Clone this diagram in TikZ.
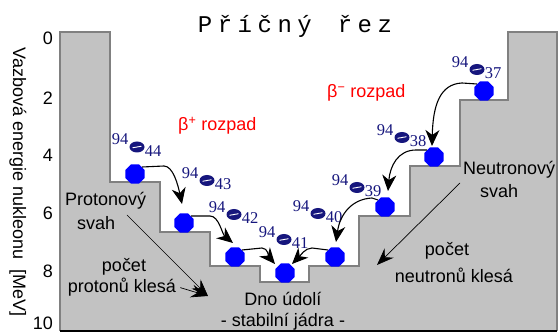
\documentclass[tikz,border=0pt]{standalone}
\usepackage{fontspec}
\setmainfont{Liberation Sans}
\newfontfamily\nucfont{Liberation Serif}
\newfontfamily\titlefont[LetterSpace=23]{Liberation Mono}
\usetikzlibrary{arrows.meta,shapes.geometric}
\definecolor{navy}{RGB}{22,22,125}
\definecolor{slopegray}{RGB}{194,194,194}
\definecolor{edgegray}{RGB}{128,128,128}
\definecolor{ballblue}{RGB}{0,0,255}
\newcommand{\nuc}[4]{%
  \node[nuctext] (#1m) at (#2,#3) {94};
  \fill[navy] (#2+17,#3+7.5) ellipse (7.5 and 5.5);
  \draw[white,line width=0.9pt] (#2+12.5,#3+8.3) -- (#2+21.5,#3+6.7);
  \node[nuctext] (#1z) at (#2+33,#3+11.5) {#4};
}
\begin{document}
\begin{tikzpicture}[x=1pt,y=-1pt,
  lbl/.style={font=\fontsize{18}{20}\selectfont, inner sep=0},
  decaylbl/.style={lbl, text=red},
  nuctext/.style={font=\nucfont\fontsize{16.5}{16.5}\selectfont, text=navy, inner sep=0},
  ball/.style={regular polygon, regular polygon sides=8, minimum size=21pt, fill=ballblue, inner sep=0, draw=none},
  decay/.style={line width=1.1pt, -{Stealth[length=16pt,width=14pt,inset=5pt]}},
  slope/.style={line width=0.7pt, -{Stealth[length=17pt,width=13pt,inset=6pt]}}
]
\useasboundingbox (0,0) rectangle (558,334);
\fill[white] (0,0) rectangle (558,334);
% valley cross-section
\fill[slopegray] (60,32) -- (110,32) -- (110,182) -- (160,182) -- (160,232) -- (210,232) -- (210,266) -- (260,266) -- (260,282) -- (309,282) -- (309,266) -- (359,266) -- (359,216) -- (410,216) -- (410,166) -- (460,166) -- (460,100) -- (508,100) -- (508,32) -- (557,32) -- (557,331) -- (60,331) -- cycle;
\draw[edgegray,line width=1.2pt] (60,331) -- (60,32) -- (110,32) -- (110,182) -- (160,182) -- (160,232) -- (210,232) -- (210,266) -- (260,266) -- (260,282) -- (309,282) -- (309,266) -- (359,266) -- (359,216) -- (410,216) -- (410,166) -- (460,166) -- (460,100) -- (508,100) -- (508,32) -- (557,32) -- (557,331);
\draw[black,line width=1.5pt] (60,331) -- (557,331);
% title
\node[inner sep=0, anchor=base, font=\titlefont\fontsize{24}{24}\selectfont] (title) at (295,33) {Příčný\hspace{6pt} řez};
% axis
\node[lbl, anchor=base east] (y0) at (53,45) {0};
\node[lbl, anchor=base east] (y2) at (53,105) {2};
\node[lbl, anchor=base east] (y4) at (53,162) {4};
\node[lbl, anchor=base east] (y6) at (53,220) {6};
\node[lbl, anchor=base east] (y8) at (53,278) {8};
\node[lbl, anchor=base east] (y10) at (53,330) {10};
\node[lbl, rotate=-90] (ylab) at (18,182) {Vazbová energie nukleonu\ \ [MeV]};
% decay labels
\node[decaylbl, anchor=base west] (bplus) at (178,131) {β\textsuperscript{+} rozpad};
\node[decaylbl, anchor=base west] (bminus) at (327,98) {β\textsuperscript{−} rozpad};
% balls
\node[ball] (b44) at (135,174) {};
\node[ball] (b43) at (184,223) {};
\node[ball] (b42) at (235,257) {};
\node[ball] (b41) at (285,273) {};
\node[ball] (b40) at (335,257) {};
\node[ball] (b39) at (385,207) {};
\node[ball] (b38) at (434,157) {};
\node[ball] (b37) at (484,91) {};
% nuclide labels
\nuc{n44}{120}{139.5}{44}
\nuc{n43}{190}{173}{43}
\nuc{n42}{217}{207}{42}
\nuc{n41}{267}{232}{41}
\nuc{n40}{301}{206}{40}
\nuc{n39}{340}{180}{39}
\nuc{n38}{385}{130}{38}
\nuc{n37}{460}{62}{37}
% decay arrows
\coordinate (t43) at (182,204);
\coordinate (t42) at (233,243);
\coordinate (t41a) at (275,264);
\coordinate (t41b) at (292,264);
\coordinate (t40) at (336,242);
\coordinate (t39) at (388,191);
\coordinate (t38) at (432,146);
\draw[decay] (b44.45) -- (164,166) .. controls (173,166) and (178,185) .. (t43);
\draw[decay] (b43.45) -- (210,216) .. controls (219,216) and (222,234) .. (t42);
\draw[decay] (b42.45) -- (262,248) .. controls (268,248) and (269,257) .. (t41a);
\draw[decay] (b40.135) -- (312,248) .. controls (305,248) and (300,256) .. (t41b);
\draw[decay] (b39.135) -- (372,198) .. controls (352,199) and (340,214) .. (t40);
\draw[decay] (b38.135) -- (416,150) .. controls (398,150) and (390,166) .. (t39);
\draw[decay] (b37.135) -- (462,83) .. controls (440,84) and (433,105) .. (t38);
% slope labels
\node[lbl, anchor=base west] (pslope) at (65,206) {Protonový};
\node[lbl, anchor=base west] (pslope2) at (77,230) {svah};
\node[lbl, anchor=base] (pcount) at (124,272) {počet};
\node[lbl, anchor=base] (pcount2) at (122,293) {protonů klesá};
\node[lbl, anchor=base] (dno) at (283,306) {Dno údolí};
\node[lbl, anchor=base] (dno2) at (283,327) {- stabilní jádra -};
\node[lbl, anchor=base west] (nslope) at (463,175) {Neutronový};
\node[lbl, anchor=base west] (nslope2) at (480,198) {svah};
\node[lbl, anchor=base] (ncount) at (447,256) {počet};
\node[lbl, anchor=base] (ncount2) at (454,283) {neutronů klesá};
% slope arrows
\coordinate (pst) at (127,215);
\coordinate (ptip) at (208,296);
\coordinate (nst) at (460,183);
\coordinate (ntip) at (377,265);
\draw[slope] (pst) -- (ptip);
\draw[slope] ([xshift=4pt]pcount2.east) -- (ptip);
\draw[slope] (nst) -- (ntip);
\end{tikzpicture}
\end{document}
